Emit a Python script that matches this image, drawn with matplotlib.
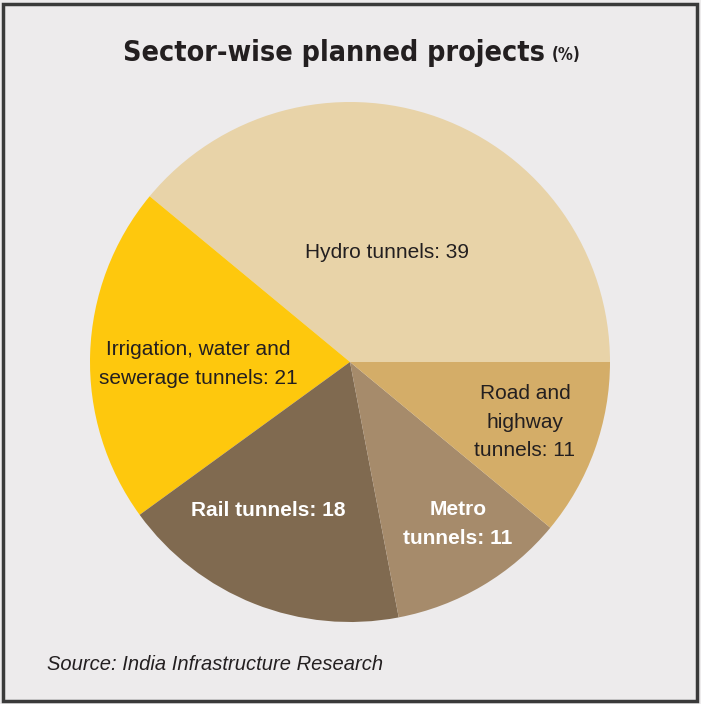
import matplotlib
matplotlib.use('Agg')
import matplotlib.pyplot as plt
from matplotlib.patches import Rectangle

plt.rcParams['font.family'] = ['Liberation Sans', 'DejaVu Sans']

sectors = ['Hydro tunnels', 'Irrigation, water and\nsewerage tunnels', 'Rail tunnels',
           'Metro\ntunnels', 'Road and\nhighway\ntunnels']
shares = [39, 21, 18, 11, 11]
colours = ['#e8d3a8', '#fec80d', '#806a50', '#a68b6b', '#d4ad68']
label_colours = ['#231f20', '#231f20', 'white', 'white', '#231f20']
label_weights = ['normal', 'normal', 'bold', 'bold', 'normal']
# label centres in pixels from the top-left corner
label_pos = [(387, 252), (198, 364), (268, 510), (458, 524), (525, 422)]

W, H = 701, 704
fig = plt.figure(figsize=(W / 100, H / 100), dpi=100)
fig.patch.set_facecolor('#edebec')

# outer frame
fig.patches.append(Rectangle((3 / W, 3 / H), (W - 7) / W, (H - 7) / H, transform=fig.transFigure,
                             fill=False, edgecolor='#3a3a3a', linewidth=2.5))

cx, cy, r = 350, 362, 260
ax = fig.add_axes([(cx - r) / W, (H - cy - r) / H, 2 * r / W, 2 * r / H])
ax.pie(shares, colors=colours, startangle=0, counterclock=True,
       wedgeprops=dict(linewidth=0))
ax.set_aspect('equal')
ax.set_xlim(-1, 1)
ax.set_ylim(-1, 1)

for name, val, (px, py), c, w in zip(sectors, shares, label_pos, label_colours, label_weights):
    fig.text(px / W, 1 - py / H, f'{name}: {val}', ha='center', va='center',
             fontsize=15, color=c, fontweight=w, linespacing=1.65)

title = fig.text(123 / W, 1 - 53 / H, 'Sector-wise planned projects', ha='left', va='center',
                 fontsize=20.5, fontweight='heavy', fontstretch='condensed',
                 family=['DejaVu Sans'], color='#231f20')
fig.canvas.draw()
bb = title.get_window_extent()
fig.text((bb.x1 + 7) / W, 1 - 55 / H, '(%)', ha='left', va='center', fontsize=12,
         fontweight='heavy', fontstretch='condensed', family=['DejaVu Sans'], color='#231f20')

fig.text(47 / W, 1 - 664 / H, 'Source: India Infrastructure Research', ha='left', va='center',
         fontsize=14.5, style='italic', color='#231f20')

fig.savefig('out.png', dpi=100, facecolor=fig.get_facecolor())
